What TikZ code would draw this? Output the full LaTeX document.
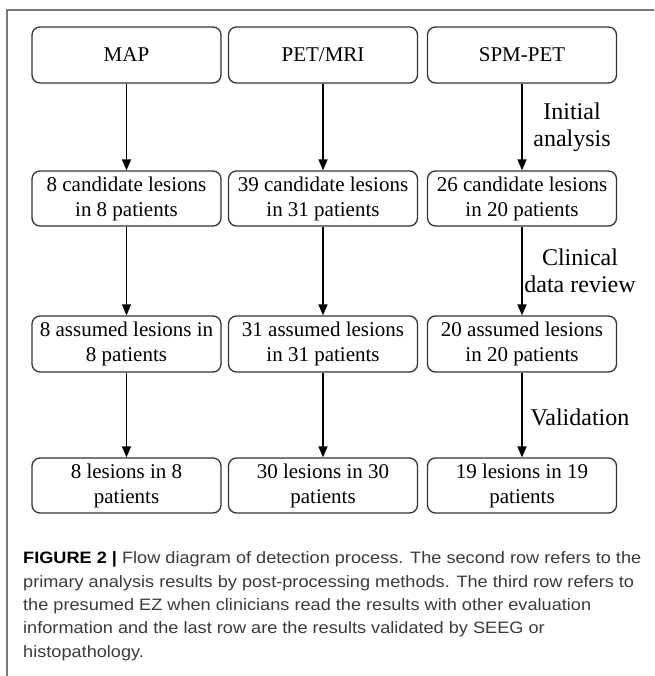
\documentclass[tikz,border=0pt]{standalone}
\usepackage{fontspec}
\setmainfont{Liberation Serif}
\newfontfamily\capfont[FakeStretch=1.1]{Liberation Sans}
\usetikzlibrary{arrows.meta}
\definecolor{boxline}{HTML}{333333}
\definecolor{framegray}{HTML}{7A7A7A}
\definecolor{captext}{HTML}{3A3A3A}
\begin{document}
\begin{tikzpicture}[x=1pt,y=-1pt,
  box/.style={draw=boxline, line width=1.3pt, rounded corners=8pt, minimum width=189pt, minimum height=55pt, align=center, inner sep=0pt, font=\fontsize{21}{25}\selectfont},
  arr/.style={draw=black, line width=1.5pt, -{Triangle[length=11pt,width=9pt]}},
  lbl/.style={font=\fontsize{24}{27}\selectfont, align=center, inner sep=0pt},
  captxt/.style={anchor=base west, inner sep=0pt, font=\capfont\fontsize{16.5}{23.5}\selectfont, text=captext}]
\useasboundingbox (0,0) rectangle (654,676);
\draw[framegray, line width=1.5pt] (654,10) -- (7,10) -- (7,676);
% row 1
\node[box, minimum height=56pt] (map1) at (126.5,55) {MAP};
\node[box, minimum height=56pt] (pet1) at (323,55) {PET/MRI};
\node[box, minimum height=56pt] (spm1) at (522,55) {SPM-PET};
% row 2
\node[box] (map2) at (126.5,198.5) {8 candidate lesions\\in 8 patients};
\node[box] (pet2) at (323,198.5) {39 candidate lesions\\in 31 patients};
\node[box] (spm2) at (522,198.5) {26 candidate lesions\\in 20 patients};
% row 3
\node[box, minimum height=56pt] (map3) at (126.5,344) {8 assumed lesions in\\8 patients};
\node[box, minimum height=56pt] (pet3) at (323,344) {31 assumed lesions\\in 31 patients};
\node[box, minimum height=56pt] (spm3) at (522,344) {20 assumed lesions\\in 20 patients};
% row 4
\node[box] (map4) at (126.5,485.5) {8 lesions in 8\\patients};
\node[box] (pet4) at (323,485.5) {30 lesions in 30\\patients};
\node[box] (spm4) at (522,485.5) {19 lesions in 19\\patients};
% arrows
\draw[arr] (map1) -- (map2);
\draw[arr] (map2) -- (map3);
\draw[arr] (map3) -- (map4);
\draw[arr] (pet1) -- (pet2);
\draw[arr] (pet2) -- (pet3);
\draw[arr] (pet3) -- (pet4);
\draw[arr] (spm1) -- node[lbl, xshift=50pt] (l1) {Initial\\analysis} (spm2);
\draw[arr] (spm2) -- node[lbl, xshift=58pt] (l2) {Clinical\\data review} (spm3);
\draw[arr] (spm3) -- node[lbl, xshift=58pt, yshift=-2pt] (l3) {Validation} (spm4);
% caption
\node[captxt] (c1) at (23,563) {\textcolor{black}{\bfseries FIGURE 2 |} Flow diagram of detection process. The second row refers to the};
\node[captxt] (c2) at (23,587) {primary analysis results by post-processing methods. The third row refers to};
\node[captxt] (c3) at (23,610) {the presumed EZ when clinicians read the results with other evaluation};
\node[captxt] (c4) at (23,633) {information and the last row are the results validated by SEEG or};
\node[captxt] (c5) at (23,657) {histopathology.};
\end{tikzpicture}
\end{document}
